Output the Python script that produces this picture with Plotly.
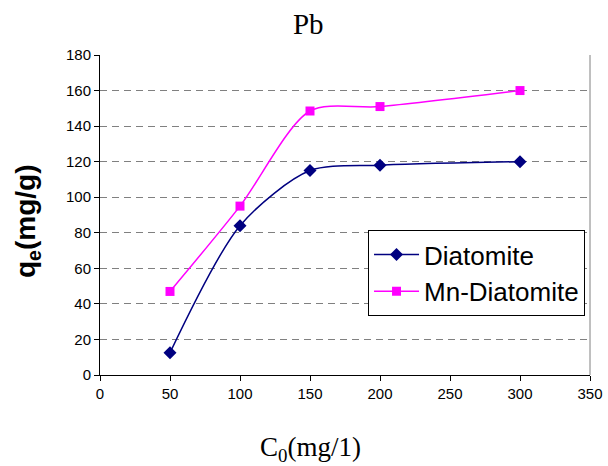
import plotly.graph_objects as go

x_vals = [50, 100, 150, 200, 300]
diatomite = [12.5, 84, 115, 118, 120]
mn_diatomite = [47, 95, 148.5, 151, 160]

fig = go.Figure()
fig.add_trace(go.Scatter(x=x_vals, y=diatomite, name="Diatomite", mode="lines+markers",
                         line=dict(color="#000080", width=1.5, shape="spline", smoothing=0.8),
                         marker=dict(symbol="diamond", size=10, color="#000080")))
fig.add_trace(go.Scatter(x=x_vals, y=mn_diatomite, name="Mn-Diatomite", mode="lines+markers",
                         line=dict(color="#FF00FF", width=1.5, shape="spline", smoothing=0.8),
                         marker=dict(symbol="square", size=9, color="#FF00FF")))

fig.update_layout(
    width=608, height=466,
    paper_bgcolor="white", plot_bgcolor="white",
    margin=dict(l=100, r=18, t=55, b=91, autoexpand=False),
    title=dict(text="Pb", x=0.507, xref="container", xanchor="center",
               y=0.9485, yref="container", yanchor="middle",
               font=dict(family="Liberation Serif", size=29, color="black")),
    xaxis=dict(range=[0, 350], dtick=50, showgrid=False, zeroline=False,
               showline=True, linecolor="black", linewidth=1,
               ticks="outside", ticklen=5, tickcolor="black",
               tickfont=dict(family="Liberation Sans", size=15, color="black")),
    yaxis=dict(range=[0, 180], dtick=20, showgrid=True, gridcolor="#808080", griddash="7px,5px",
               gridwidth=1, zeroline=False,
               showline=True, linecolor="black", linewidth=1,
               ticks="outside", ticklen=5, tickcolor="black",
               tickfont=dict(family="Liberation Sans", size=15, color="black")),
    legend=dict(x=0.547, y=0.453, xanchor="left", yanchor="top",
                bordercolor="black", borderwidth=1, bgcolor="white",
                font=dict(family="Liberation Sans", size=26, color="black"),
                itemwidth=45, tracegroupgap=0),
    showlegend=True,
    annotations=[
        dict(text="C<sub>0</sub>(mg/1)", xref="paper", yref="paper", x=0.4286, y=-0.231,
             xanchor="center", yanchor="middle", showarrow=False,
             font=dict(family="Liberation Serif", size=27, color="black")),
        dict(text="<b>q<sub>e</sub>(mg/g)</b>", xref="paper", yref="paper", x=-0.149, y=0.481,
             xanchor="center", yanchor="middle", showarrow=False, textangle=-90,
             font=dict(family="Liberation Sans", size=28, color="black")),
    ],
)
fig.add_shape(type="line", xref="paper", yref="paper", x0=1, x1=1, y0=0, y1=1,
              line=dict(color="#808080", width=1))

fig.write_html("out.html", config={"displayModeBar": False},
               post_script="document.body.style.margin='0';document.body.style.overflow='hidden';")
